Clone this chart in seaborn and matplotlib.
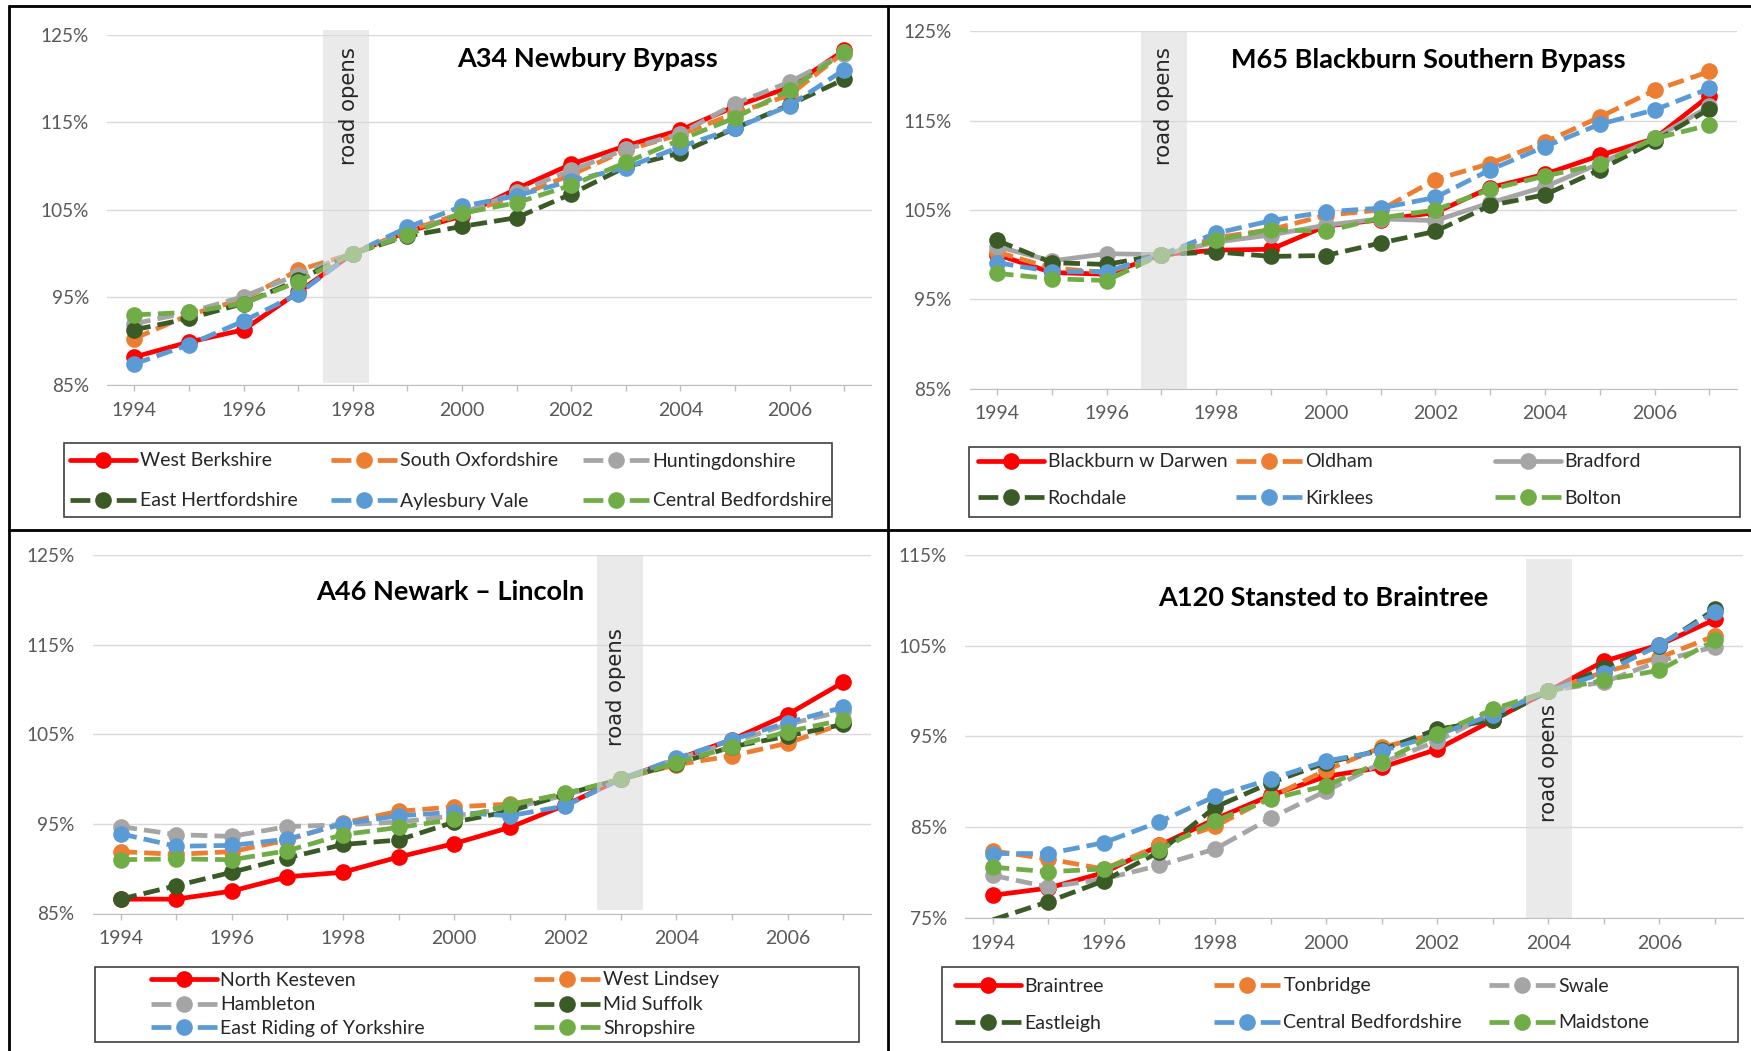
import matplotlib
matplotlib.use('Agg')
import matplotlib.pyplot as plt
import seaborn as sns
import numpy as np
import pandas as pd
from matplotlib.lines import Line2D
from matplotlib.patches import Rectangle

years = list(range(1994, 2008))
year_labels = [str(y) if y % 2 == 0 else '' for y in years]

# A34 Newbury Bypass (road opens 1998)
a34_names = ['West Berkshire', 'South Oxfordshire', 'Huntingdonshire',
             'East Hertfordshire', 'Aylesbury Vale', 'Central Bedfordshire']
west_berkshire = [88.2, 89.9, 91.3, 95.6, 100, 102.5, 104.3, 107.4, 110.2, 112.3, 114.1, 116.8, 119.0, 123.2]
south_oxfordshire = [90.3, 93.0, 94.8, 98.1, 100, 102.6, 104.6, 106.5, 109.0, 111.8, 113.6, 116.0, 118.1, 123.0]
huntingdonshire = [92.0, 93.3, 95.1, 97.6, 100, 102.3, 104.6, 107.0, 109.5, 111.9, 113.7, 117.1, 119.6, 122.8]
east_hertfordshire = [91.3, 92.6, 94.3, 97.0, 100, 102.0, 103.1, 104.1, 106.8, 109.9, 111.5, 114.3, 117.0, 119.9]
aylesbury_vale = [87.4, 89.6, 92.3, 95.4, 100, 103.0, 105.4, 106.6, 108.3, 109.8, 112.2, 114.3, 116.9, 121.0]
central_bedfordshire_a34 = [93.0, 93.3, 94.3, 96.8, 100, 102.1, 104.6, 105.8, 107.8, 110.4, 113.0, 115.5, 118.7, 123.0]

# M65 Blackburn Southern Bypass (road opens 1997)
m65_names = ['Blackburn w Darwen', 'Oldham', 'Bradford', 'Rochdale', 'Kirklees', 'Bolton']
blackburn = [100.0, 98.0, 97.8, 100, 100.5, 100.6, 103.2, 103.9, 104.7, 107.5, 109.0, 111.1, 113.0, 117.8]
oldham = [100.3, 98.5, 98.0, 100, 101.9, 102.8, 104.4, 105.0, 108.4, 110.2, 112.6, 115.4, 118.4, 120.5]
bradford = [100.9, 99.3, 100.1, 100, 101.4, 102.2, 103.3, 104.0, 103.8, 105.8, 107.6, 110.2, 113.0, 116.6]
rochdale = [101.6, 99.1, 98.9, 100, 100.3, 99.8, 99.9, 101.3, 102.6, 105.5, 106.7, 109.5, 112.7, 116.3]
kirklees = [99.1, 98.1, 98.1, 100, 102.4, 103.8, 104.8, 105.2, 106.4, 109.5, 112.1, 114.6, 116.2, 118.6]
bolton = [97.9, 97.3, 97.1, 100, 101.6, 102.8, 102.6, 104.1, 105.0, 107.3, 108.8, 110.1, 113.0, 114.5]

# A46 Newark - Lincoln (road opens 2003)
a46_names = ['North Kesteven', 'West Lindsey', 'Hambleton', 'Mid Suffolk',
             'East Riding of Yorkshire', 'Shropshire']
north_kesteven = [86.6, 86.6, 87.5, 89.1, 89.6, 91.3, 92.8, 94.6, 97.1, 100, 102.2, 104.4, 107.2, 110.8]
west_lindsey = [91.9, 91.6, 91.9, 93.2, 95.1, 96.4, 96.9, 97.2, 98.3, 100, 101.6, 102.6, 104.0, 106.2]
hambleton = [94.7, 93.8, 93.6, 94.7, 94.9, 95.2, 95.9, 96.7, 98.2, 100, 102.2, 104.1, 106.1, 107.6]
mid_suffolk = [86.6, 88.1, 89.6, 91.2, 92.7, 93.2, 95.2, 96.4, 98.3, 100, 101.7, 103.6, 104.8, 106.1]
east_riding = [93.9, 92.5, 92.6, 93.3, 95.0, 95.9, 96.3, 95.9, 97.0, 100, 102.3, 104.4, 106.3, 108.0]
shropshire = [91.0, 91.1, 91.0, 92.0, 93.8, 94.6, 95.5, 97.1, 98.4, 100, 101.8, 103.6, 105.3, 106.6]

# A120 Stansted to Braintree (road opens 2004)
a120_names = ['Braintree', 'Tonbridge', 'Swale', 'Eastleigh', 'Central Bedfordshire', 'Maidstone']
braintree = [77.5, 78.3, 80.0, 83.0, 85.9, 88.5, 90.6, 91.6, 93.6, 96.8, 100, 103.3, 105.1, 107.9]
tonbridge = [82.4, 81.5, 80.4, 83.0, 85.1, 88.3, 91.3, 93.8, 95.3, 97.8, 100, 102.1, 103.7, 106.1]
swale = [79.7, 78.4, 79.3, 80.8, 82.6, 86.0, 89.0, 92.1, 94.5, 97.6, 100, 101.0, 103.3, 104.9]
eastleigh = [74.8, 76.8, 79.1, 82.3, 87.2, 89.9, 92.1, 93.5, 95.8, 96.8, 100, 102.5, 105.0, 109.0]
central_bedfordshire_a120 = [82.1, 82.1, 83.3, 85.6, 88.4, 90.3, 92.3, 93.4, 95.2, 97.4, 100, 102.0, 105.1, 108.7]
maidstone = [80.6, 80.1, 80.4, 82.5, 85.7, 88.1, 89.6, 92.2, 95.3, 98.0, 100, 101.2, 102.3, 105.6]

ticks_85 = [85, 95, 105, 115, 125]
labels_85 = ['85%', '95%', '105%', '115%', '125%']
ticks_75 = [75, 85, 95, 105, 115]
labels_75 = ['75%', '85%', '95%', '105%', '115%']

COLORS = ['#FF0000', '#ED7D31', '#A5A5A5', '#3A5A26', '#5B9BD5', '#70AD47']
DASH = (3.5, 1.5)
LW = 3.4
MS = 12
TICK_FS = 14

sns.set_style('white')
plt.rcParams['font.family'] = ['Lato', 'DejaVu Sans']

W, H = 1751, 1051
fig = plt.figure(figsize=(W / 100, H / 100), dpi=100)


def add_axes_px(left, top, right, bottom):
    return fig.add_axes([left / W, 1 - bottom / H, (right - left) / W, (bottom - top) / H])


def plot_panel(ax, names, series, solid, ticks, tick_labels):
    df = pd.DataFrame({'year': years * len(names),
                       'area': np.repeat(names, len(years)),
                       'value': np.concatenate(series)})
    ymin = ticks[0]
    for i, name in enumerate(names):
        sub = df[df['area'] == name]
        # points below the axis are not marked (the line just leaves the plot)
        keep = [j for j, v in enumerate(sub['value']) if v >= ymin]
        sns.lineplot(data=sub, x='year', y='value', ax=ax, color=COLORS[i],
                     linestyle='-' if solid[i] else (0, DASH), linewidth=LW,
                     marker='o', markersize=MS, markeredgewidth=0, markevery=keep,
                     errorbar=None, legend=False, zorder=2 + i * 0.1)
    ax.set_xlim(1993.5, 2007.5)
    ax.set_ylim(ticks[0], ticks[-1])
    ax.set_xticks(years)
    ax.set_xticklabels(year_labels)
    ax.set_yticks(ticks)
    ax.set_yticklabels(tick_labels)
    ax.set_xlabel('')
    ax.set_ylabel('')
    ax.grid(axis='y', color='#D9D9D9', lw=1)
    ax.grid(axis='x', visible=False)
    for s in ['top', 'right', 'left']:
        ax.spines[s].set_visible(False)
    ax.spines['bottom'].set_color('#BFBFBF')
    ax.tick_params(axis='x', length=4, width=1, color='#BFBFBF', pad=8,
                   labelsize=TICK_FS, labelcolor='#595959', bottom=True)
    ax.tick_params(axis='y', length=0, pad=13, labelsize=TICK_FS - 0.3, labelcolor='#595959')
    ax.set_facecolor('none')


def road_opens(ax, x0, x1, y0, y1, tx, ty):
    ax.fill_betweenx([y0, y1], x0, x1, color='#DADADA', alpha=0.55, lw=0,
                     zorder=5, clip_on=False)
    ax.text(tx, ty, 'road opens', rotation=90, ha='center', va='top', fontsize=15.3,
            family='DejaVu Sans', color='#262626', zorder=6)


def panel_legend(names, solid, cols, rows, ncol):
    for i, name in enumerate(names):
        handle = Line2D([], [], color=COLORS[i], lw=LW,
                        ls='-' if solid[i] else (0, (4.2, 5.6)),
                        marker='o', ms=MS, mew=0)
        x = cols[i % ncol]
        y = rows[i // ncol]
        fig.legend([handle], [name], loc='center left',
                   bbox_to_anchor=(x / W, 1 - y / H), bbox_transform=fig.transFigure,
                   frameon=False, borderpad=0, borderaxespad=0, handlelength=3.4,
                   handletextpad=0.18, fontsize=14, labelcolor='#262626', numpoints=1)


def box_px(x0, y0, x1, y1):
    fig.add_artist(Rectangle((x0 / W, 1 - y1 / H), (x1 - x0) / W, (y1 - y0) / H,
                             transform=fig.transFigure, fill=False,
                             ec='#404040', lw=1.2))


def title_px(x, y, text):
    fig.text(x / W, 1 - y / H, text, ha='center', va='center', fontsize=19.5,
             fontweight='bold', color='black')


# top left: A34
ax1 = add_axes_px(107, 34.6, 871.5, 385)
solid_std = [True, False, False, False, False, False]
plot_panel(ax1, a34_names,
           [west_berkshire, south_oxfordshire, huntingdonshire,
            east_hertfordshire, aylesbury_vale, central_bedfordshire_a34],
           solid_std, ticks_85, labels_85)
road_opens(ax1, 1997.46, 1998.29, 85.2, 125.5, 1997.93, 123.6)
title_px(588, 59, 'A34 Newbury Bypass')
box_px(64, 443, 832, 517)
panel_legend(a34_names, solid_std, [70, 330.5, 583], [461, 501], 3)

# top right: M65
ax2 = add_axes_px(969.6, 31.3, 1736.8, 388.6)
solid_m65 = [True, False, True, False, False, False]
plot_panel(ax2, m65_names, [blackburn, oldham, bradford, rochdale, kirklees, bolton],
           solid_m65, ticks_85, labels_85)
road_opens(ax2, 1996.62, 1997.46, 85, 125, 1997.05, 123.2)
title_px(1428, 60, 'M65 Blackburn Southern Bypass')
box_px(969, 447, 1740, 517)
panel_legend(m65_names, solid_m65, [978, 1236, 1495], [462, 498], 3)

# bottom left: A46
ax3 = add_axes_px(92.8, 555, 871, 913.5)
plot_panel(ax3, a46_names,
           [north_kesteven, west_lindsey, hambleton, mid_suffolk, east_riding, shropshire],
           solid_std, ticks_85, labels_85)
road_opens(ax3, 2002.57, 2003.4, 85.4, 125, 2002.92, 116.8)
title_px(450, 592, 'A46 Newark \u2013 Lincoln')
box_px(95, 967, 859, 1042)
panel_legend(a46_names, solid_std, [150.8, 533.8], [980, 1005, 1028.5], 2)

# bottom right: A120
ax4 = add_axes_px(965, 555, 1742.8, 918)
plot_panel(ax4, a120_names,
           [braintree, tonbridge, swale, eastleigh, central_bedfordshire_a120, maidstone],
           solid_std, ticks_75, labels_75)
road_opens(ax4, 2003.6, 2004.43, 75, 114.6, 2004.02, 98.6)
title_px(1323, 598, 'A120 Stansted to Braintree')
box_px(942, 967, 1738, 1042)
panel_legend(a120_names, solid_std, [954.8, 1213.8, 1488.5], [986, 1023], 3)

# panel frame lines
for (x0, y0, x1, y1) in [(9, 6, 1751, 6), (9, 6, 9, 1051), (888, 6, 888, 1051), (9, 530, 1751, 530)]:
    fig.add_artist(Line2D([x0 / W, x1 / W], [1 - y0 / H, 1 - y1 / H],
                          transform=fig.transFigure, color='black', lw=2))

fig.savefig('out.png', dpi=100)
